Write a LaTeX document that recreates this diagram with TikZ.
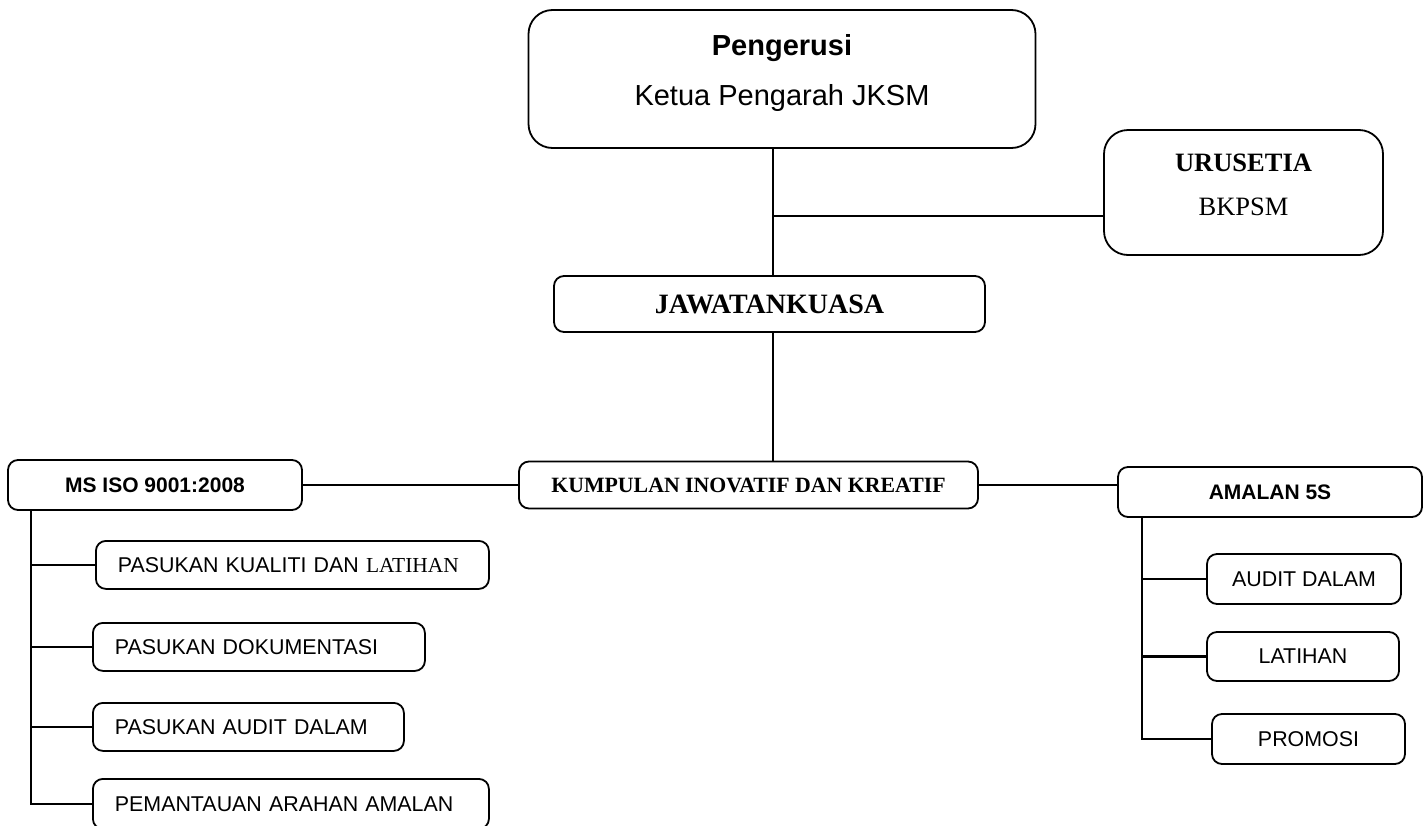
\documentclass[tikz,border=0pt]{standalone}
\usepackage{fontspec}
\setmainfont{Liberation Sans}
\newfontfamily\tms{Liberation Serif}

\begin{document}
\begin{tikzpicture}[x=1pt, y=-1pt,
  bigbox/.style={draw, line width=1.8pt, rounded corners=24pt, align=center, inner sep=0pt},
  gbox/.style={draw, line width=1.8pt, rounded corners=10pt, align=center, inner sep=0pt},
  lbox/.style={draw, line width=1.8pt, rounded corners=10pt, align=left,
    inner xsep=22pt, inner ysep=0pt, minimum height=48pt, anchor=north west},
  link/.style={line width=2.6pt}]
  \useasboundingbox (0,0) rectangle (1424,825);
  \clip (0,0) rectangle (1424,825);
  % top
  \node[bigbox, minimum width=507pt, minimum height=138pt, font=\fontsize{29}{50}\selectfont] (p0) at (782,79)
    {\textbf{Pengerusi}\\Ketua Pengarah JKSM\rule[-18pt]{0pt}{0pt}};
  \node[bigbox, minimum width=279pt, minimum height=125pt, font=\tms\fontsize{26.5}{44}\selectfont] (u0) at (1243.5,192.5)
    {\textbf{URUSETIA}\\BKPSM\rule[-15pt]{0pt}{0pt}};
  \node[gbox, minimum width=431pt, minimum height=56pt, font=\tms\bfseries\fontsize{28}{32}\selectfont] (j0) at (769.5,304) {JAWATANKUASA};
  \node[gbox, minimum width=459pt, minimum height=47pt, font=\tms\bfseries\fontsize{21.8}{25}\selectfont] (k0) at (748.5,485) {KUMPULAN INOVATIF DAN KREATIF};
  \coordinate (t0) at (773,148);
  \coordinate (c0) at (773,216);
  \draw[link] (t0) -- (t0 |- j0.north);
  \draw[link] (c0) -- (c0 -| u0.west);
  \draw[link] (t0 |- j0.south) -- (t0 |- k0.north);
  % left branch
  \node[gbox, minimum width=294pt, minimum height=50pt, font=\bfseries\fontsize{21}{25}\selectfont] (m0) at (155,485) {MS ISO 9001:2008};
  \node[lbox, text width=349pt, font=\fontsize{21.4}{25}\selectfont] (m1) at (95,540) {PASUKAN KUALITI DAN {\tms LATIHAN}};
  \node[lbox, text width=288pt, font=\fontsize{21.4}{25}\selectfont] (m2) at (92,622) {PASUKAN DOKUMENTASI};
  \node[lbox, text width=267pt, font=\fontsize{21.4}{25}\selectfont] (m3) at (92,702) {PASUKAN AUDIT DALAM};
  \node[lbox, text width=352pt, minimum height=50pt, font=\fontsize{21.4}{25}\selectfont] (m4) at (92,778) {PEMANTAUAN ARAHAN AMALAN};
  \draw[link] (k0.west) -- (m0.east);
  \coordinate (mt) at ([xshift=24pt]m0.south west);
  \draw[link] (mt) |- (m4.west);
  \foreach \i in {1,2,3}
    \draw[link] (mt |- m\i.west) -- (m\i.west);
  % right branch
  \node[gbox, minimum width=304pt, minimum height=50pt, font=\bfseries\fontsize{21}{25}\selectfont] (a0) at (1270,492) {AMALAN 5S};
  \node[gbox, minimum width=194pt, minimum height=50pt, font=\fontsize{21.4}{25}\selectfont] (a1) at (1304,579) {AUDIT DALAM};
  \node[gbox, minimum width=192pt, minimum height=49pt, font=\fontsize{21.4}{25}\selectfont] (a2) at (1303,656.5) {LATIHAN};
  \node[gbox, minimum width=193pt, minimum height=50pt, font=\fontsize{21.4}{25}\selectfont] (a3) at (1308.5,739) {PROMOSI};
  \draw[link] (k0.east) -- (k0.east -| a0.west);
  \coordinate (at) at ([xshift=25pt]a0.south west);
  \draw[link] (at) |- (a3.west);
  \foreach \i in {1,2}
    \draw[link] (at |- a\i.west) -- (a\i.west);
\end{tikzpicture}
\end{document}
